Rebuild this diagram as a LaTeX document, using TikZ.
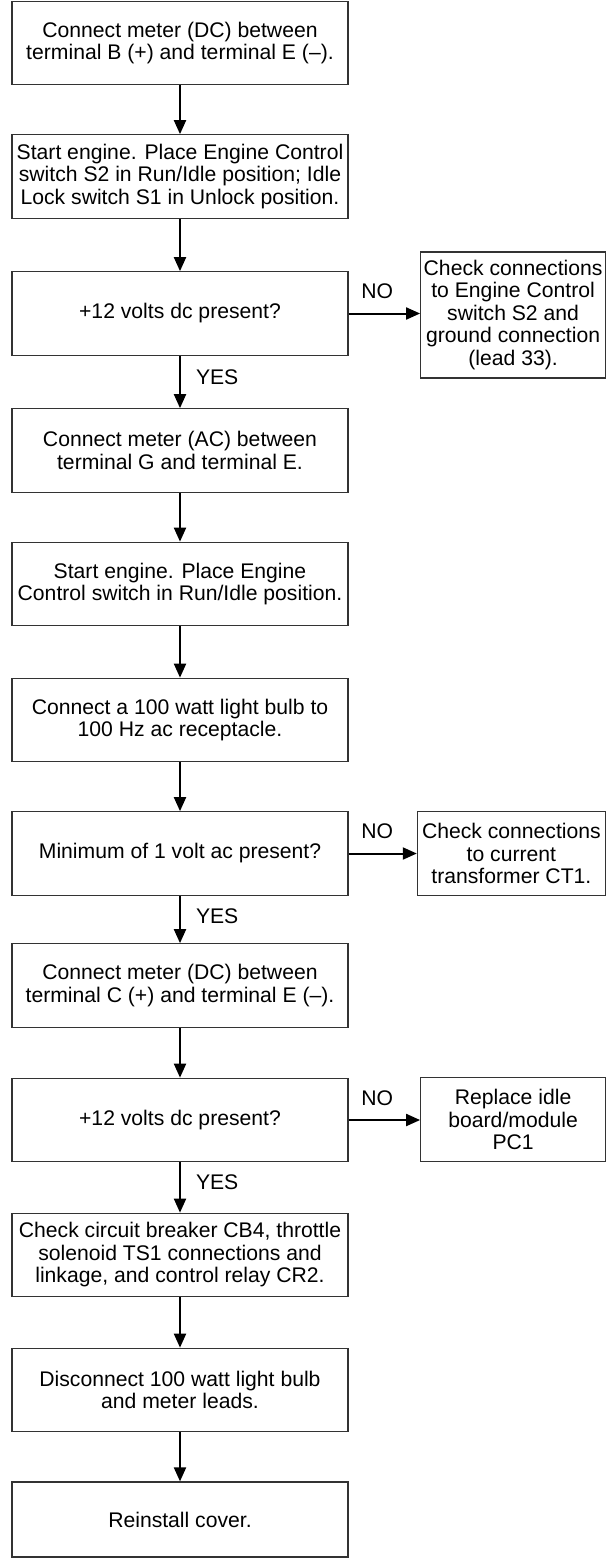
\documentclass[tikz,border=0pt]{standalone}
\usepackage{fontspec}
\setmainfont{Liberation Sans}
\usetikzlibrary{arrows.meta}
\begin{document}
\begin{tikzpicture}[x=0.5pt,y=-0.5pt,
  txt/.style={font=\fontsize{10.58}{11.25}\selectfont},
  box/.style={txt, draw=black!80, line width=0.6pt, inner sep=0pt, align=center,
              minimum width=168pt, minimum height=41.75pt},
  rbox/.style={box, minimum width=92.4pt},
  arr/.style={line width=1pt, -{Triangle[length=7pt,width=6pt]}},
  lbl/.style={txt, inner sep=0pt}]
\useasboundingbox (0,0) rectangle (606,1559);

\node[box] (b1) at (180,43) {Connect meter (DC) between\\terminal B (+) and terminal E (\textendash).};
\node[box] (b2) at (180,176.5) {Start engine. Place Engine Control\\switch S2 in Run/Idle position; Idle\\Lock switch S1 in Unlock position.};
\node[box] (b3) at (180,313.5) {+12 volts dc present?};
\node[box] (b4) at (180,450.5) {Connect meter (AC) between\\terminal G and terminal E.};
\node[box] (b5) at (180,584) {Start engine. Place Engine\\Control switch in Run/Idle position.};
\node[box] (b6) at (180,720) {Connect a 100 watt light bulb to\\100 Hz ac receptacle.};
\node[box] (b7) at (180,853.5) {Minimum of 1 volt ac present?};
\node[box] (b8) at (180,985.5) {Connect meter (DC) between\\terminal C (+) and terminal E (\textendash).};
\node[box] (b9) at (180,1120) {+12 volts dc present?};
\node[box] (b10) at (180,1255) {Check circuit breaker CB4, throttle\\solenoid TS1 connections and\\linkage, and control relay CR2.};
\node[box] (b11) at (180,1390) {Disconnect 100 watt light bulb\\and meter leads.};
\node[box, minimum height=37.5pt] (b12) at (180,1519.5) {Reinstall cover.};

\node[rbox, minimum height=63pt] (r1) at (513.1,315) {Check connections\\to Engine Control\\switch S2 and\\ground connection\\(lead 33).};
\node[rbox, minimum width=94pt] (r2) at (511.4,853.5) {Check connections\\to current\\transformer CT1.};
\node[rbox] (r3) at (513.1,1119.5) {Replace idle\\board/module\\PC1};

\draw[arr] (b1) -- (b2);
\draw[arr] (b2) -- (b3);
\draw[arr] (b3) -- node[lbl, pos=0.4, anchor=west, xshift=7.5pt] {YES} (b4);
\draw[arr] (b4) -- (b5);
\draw[arr] (b5) -- (b6);
\draw[arr] (b6) -- (b7);
\draw[arr] (b7) -- node[lbl, pos=0.44, anchor=west, xshift=7.5pt] {YES} (b8);
\draw[arr] (b8) -- (b9);
\draw[arr] (b9) -- node[lbl, pos=0.4, anchor=west, xshift=7.5pt] {YES} (b10);
\draw[arr] (b10) -- (b11);
\draw[arr] (b11) -- (b12);

\draw[arr] (b3.east) -- node[lbl, pos=0.4, above=6.75pt] {NO} (b3.east -| r1.west);
\draw[arr] (b7.east) -- node[lbl, pos=0.42, above=6.75pt] {NO} (b7.east -| r2.west);
\draw[arr] (b9.east) -- node[lbl, pos=0.4, above=6.75pt] {NO} (b9.east -| r3.west);
\end{tikzpicture}
\end{document}
